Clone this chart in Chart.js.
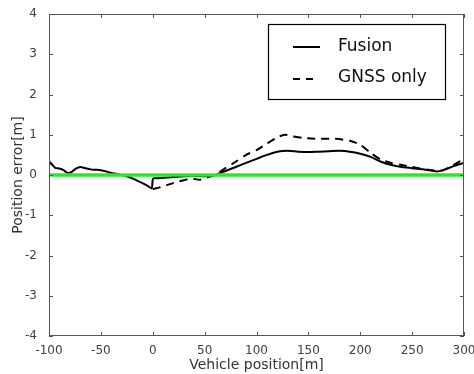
<!DOCTYPE html>
<html>
<head>
<meta charset="utf-8">
<script src="https://cdn.jsdelivr.net/npm/chart.js@4/dist/chart.umd.min.js"></script>
<style>
  html, body { margin: 0; padding: 0; background: #fff; }
  #wrap { width: 474px; height: 374px; }
</style>
</head>
<body>
<div id="wrap"><canvas id="errChart" width="474" height="374"></canvas></div>
<script>
// vehicle position [m] and position error [m]
const fusionX = [-100, -99, -97, -94, -90, -86, -82, -78, -74, -70, -65, -60, -55, -50, -45, -40, -35, -30, -25, -20, -15, -10, -5, -1, 0.3,
                 5, 10, 20, 30, 40, 50, 60, 70, 80, 90, 100, 110, 120, 130, 140, 150, 160, 170, 180, 190, 200, 210, 220, 230, 240, 250, 260, 270, 275, 280, 290, 300];
const fusionY = [0.22, 0.32, 0.26, 0.18, 0.16, 0.12, 0.05, 0.08, 0.16, 0.2, 0.17, 0.14, 0.13, 0.12, 0.09, 0.05, 0.03, 0.0, -0.03, -0.08, -0.14, -0.2, -0.27, -0.33, -0.09,
                 -0.08, -0.07, -0.05, -0.03, -0.02, -0.03, 0.0, 0.1, 0.2, 0.3, 0.4, 0.5, 0.58, 0.6, 0.58, 0.57, 0.58, 0.59, 0.6, 0.58, 0.53, 0.45, 0.33, 0.25, 0.2, 0.17, 0.14, 0.1, 0.09, 0.12, 0.22, 0.3];

const gnssX = [0, 5, 10, 15, 20, 25, 30, 35, 40, 45, 50, 55, 60, 70, 80, 90, 100, 110, 120, 127, 135, 145, 160, 175, 190, 200, 210, 220, 230, 240, 250, 260, 270, 280, 290, 300];
const gnssY = [-0.35, -0.32, -0.28, -0.24, -0.2, -0.16, -0.13, -0.1, -0.1, -0.12, -0.08, -0.04, 0.0, 0.17, 0.33, 0.5, 0.62, 0.78, 0.93, 1.0, 0.96, 0.92, 0.9, 0.9, 0.85, 0.75, 0.55, 0.38, 0.3, 0.25, 0.2, 0.15, 0.12, 0.12, 0.25, 0.4];

const zeroX = [-100, 300];
const zeroY = [0, 0];

const xTicks = [-100, -50, 0, 50, 100, 150, 200, 250, 300];
const yTicks = [-4, -3, -2, -1, 0, 1, 2, 3, 4];

const legendNames = ['Fusion', 'GNSS only'];

function pts(xs, ys) {
    return xs.map((x, i) => ({ x: x, y: ys[i] }));
}

// box + inward ticks like the matlab axes, plus the boxed legend
const boxPlugin = {
    id: 'boxPlugin',
    afterDatasetsDraw(chart) {
        const ctx = chart.ctx;
        const a = chart.chartArea;
        const xs = chart.scales.x, ys = chart.scales.y;
        ctx.save();
        ctx.strokeStyle = '#555';
        ctx.lineWidth = 1;
        ctx.strokeRect(a.left + 0.5, a.top + 0.5, a.right - a.left - 1, a.bottom - a.top - 1);
        ctx.beginPath();
        xTicks.forEach(v => {
            const px = Math.round(xs.getPixelForValue(v)) + 0.5;
            ctx.moveTo(px, a.bottom); ctx.lineTo(px, a.bottom - 4);
            ctx.moveTo(px, a.top); ctx.lineTo(px, a.top + 4);
        });
        yTicks.forEach(v => {
            const py = Math.round(ys.getPixelForValue(v)) + 0.5;
            ctx.moveTo(a.left, py); ctx.lineTo(a.left + 4, py);
            ctx.moveTo(a.right, py); ctx.lineTo(a.right - 4, py);
        });
        ctx.stroke();

        // legend
        ctx.fillStyle = '#fff';
        ctx.fillRect(268, 24, 178, 76);
        ctx.strokeStyle = '#000';
        ctx.lineWidth = 1.2;
        ctx.strokeRect(268.5, 24.5, 177, 75);
        ctx.lineWidth = 2;
        ctx.beginPath();
        ctx.moveTo(293, 47); ctx.lineTo(320, 47);
        ctx.stroke();
        ctx.setLineDash([7, 6]);
        ctx.beginPath();
        ctx.moveTo(293, 79); ctx.lineTo(313, 79);
        ctx.stroke();
        ctx.setLineDash([]);
        ctx.fillStyle = '#111';
        ctx.font = '17px "DejaVu Sans"';
        ctx.textBaseline = 'middle';
        ctx.fillText(legendNames[0], 338, 47);
        ctx.fillText(legendNames[1], 338, 78);
        ctx.restore();
    }
};

function loadChart() {
    const ctx = document.getElementById('errChart').getContext('2d');
    new Chart(ctx, {
        type: 'line',
        data: {
            datasets: [{
                label: 'zero',
                data: pts(zeroX, zeroY),
                borderColor: '#2ee62e',
                borderWidth: 3.5,
                pointRadius: 0,
                order: 0
            }, {
                label: legendNames[0],
                data: pts(fusionX, fusionY),
                borderColor: '#000',
                borderWidth: 2,
                pointRadius: 0,
                tension: 0.25,
                order: 1
            }, {
                label: legendNames[1],
                data: pts(gnssX, gnssY),
                borderColor: '#000',
                borderWidth: 2,
                borderDash: [8, 6],
                pointRadius: 0,
                tension: 0.25,
                order: 2
            }]
        },
        options: {
            responsive: false,
            animation: false,
            layout: { padding: { left: 0, right: 10, top: 14, bottom: 0 } },
            plugins: { legend: { display: false }, tooltip: { enabled: false } },
            scales: {
                x: {
                    type: 'linear',
                    min: -100, max: 300,
                    grid: { display: false },
                    border: { display: false },
                    afterBuildTicks: s => { s.ticks = xTicks.map(v => ({ value: v })); },
                    afterFit: s => { s.height = 38; s.paddingLeft = 0; s.paddingRight = 0; },
                    ticks: { color: '#404040', font: { family: 'DejaVu Sans', size: 12 }, padding: 0, maxRotation: 0, autoSkip: false },
                    title: { display: true, text: 'Vehicle position[m]', color: '#333', font: { family: 'DejaVu Sans', size: 14 }, padding: { top: 0, bottom: 0 } }
                },
                y: {
                    min: -4, max: 4,
                    grid: { display: false },
                    border: { display: false },
                    afterBuildTicks: s => { s.ticks = yTicks.map(v => ({ value: v })); },
                    afterFit: s => { s.width = 49; s.paddingTop = 0; s.paddingBottom = 0; },
                    ticks: { color: '#404040', font: { family: 'DejaVu Sans', size: 12 }, padding: 4 },
                    title: { display: true, text: 'Position error[m]', color: '#333', font: { family: 'DejaVu Sans', size: 14 }, padding: { top: 10, bottom: 0 } }
                }
            }
        },
        plugins: [boxPlugin]
    });
}

document.addEventListener('DOMContentLoaded', loadChart);
</script>
</body>
</html>
